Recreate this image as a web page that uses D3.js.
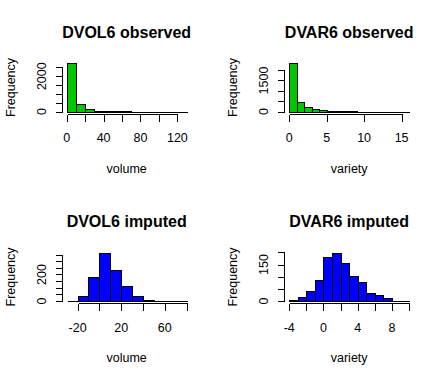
<!DOCTYPE html>
<html><head><meta charset="utf-8">
<script src="https://cdn.jsdelivr.net/npm/d3@7"></script>
<style>body{margin:0;background:#fff}svg{display:block}text{font-family:"Liberation Sans",Arial,sans-serif;fill:#000}</style>
</head><body><svg id="c" width="445" height="379"></svg>
<script>
// ---- data ----
const titles = ["DVOL6 observed", "DVAR6 observed", "DVOL6 imputed", "DVAR6 imputed"];
const xLabels = ["volume", "variety", "volume", "variety"];
const yLabel = "Frequency";

const dvol6ObsBreaks = [0,10,20,30,40,50,60,70,80,90,100,110,120,130];
const dvol6ObsCounts = [2727,440,125,50,15,8,5,3,2,1,1,1,1];
const dvar6ObsBreaks = [0,1,2,3,4,5,6,7,8,9,10,11,12,13,14,15,16];
const dvar6ObsCounts = [2327,473,229,146,98,49,40,8,4,2,1,1,1,0,0,1];
const dvol6ImpBreaks = [-30,-20,-10,0,10,20,30,40,50,60,70,80];
const dvol6ImpCounts = [1,38,183,363,236,116,38,8,1,1,1];
const dvar6ImpBreaks = [-4,-3,-2,-1,0,1,2,3,4,5,6,7,8,9,10];
const dvar6ImpCounts = [4,16,41,86,179,198,157,104,79,34,23,14,1,1];

const xTicks = [[0,20,40,60,80,100,120],[0,5,10,15],[-20,0,20,40,60,80],[-4,-2,0,2,4,6,8,10]];
const xTickLabels = [[0,40,80,120],[0,5,10,15],[-20,20,60],[-4,0,4,8]];
const yTicks = [[0,500,1000,1500,2000,2500],[0,500,1000,1500,2000],[0,50,100,150,200,250,300,350],[0,50,100,150,200]];
const yTickLabels = [[0,2000],[0,1500],[0,200],[0,150]];
const fills = ["#00C800","#00C800","#0000FF","#0000FF"];

// ---- draw ----
const svg = d3.select("#c");
const panels = [
  {b: dvol6ObsBreaks, c: dvol6ObsCounts},
  {b: dvar6ObsBreaks, c: dvar6ObsCounts},
  {b: dvol6ImpBreaks, c: dvol6ImpCounts},
  {b: dvar6ImpBreaks, c: dvar6ImpCounts}
];
const PW = 222.5, PH = 189.5;
const L = 61.9, T = 61.4, W = 129.5, H = 52.1;

panels.forEach((p, i) => {
  const ox = (i % 2) * PW, oy = Math.floor(i / 2) * PH;
  const left = ox + L, top = oy + T, right = left + W, bottom = top + H;
  const xmin = p.b[0], xmax = p.b[p.b.length - 1];
  const ymax = d3.max(p.c);
  const dx = (xmax - xmin) * 0.04, dy = ymax * 0.04;
  const x = d3.scaleLinear().domain([xmin - dx, xmax + dx]).range([left, right]);
  const y = d3.scaleLinear().domain([-dy, ymax + dy]).range([bottom, top]);
  const g = svg.append("g");

  const bins = p.c.map((v, k) => ({x0: p.b[k], x1: p.b[k + 1], v}));
  const px = v => Math.round(x(v)) + 0.5, py = v => Math.round(y(v)) + 0.5;
  g.selectAll("path.bar").data(bins).join("path").attr("class", "bar")
    .attr("d", d => `M${px(d.x0)},${py(0)}V${py(d.v)}H${px(d.x1)}V${py(0)}Z`)
    .attr("fill", fills[i]).attr("stroke", "#000").attr("stroke-width", 1)
    .attr("shape-rendering", "crispEdges");

  // x axis
  const xa = g.append("g").attr("transform", `translate(0,${Math.round(bottom) + 0.5})`);
  const xt = xTicks[i];
  xa.append("line").attr("x1", px(xt[0])).attr("x2", px(xt[xt.length - 1]))
    .attr("stroke", "#000").attr("shape-rendering", "crispEdges");
  xa.selectAll("line.t").data(xt).join("line").attr("class", "t")
    .attr("x1", d => px(d)).attr("x2", d => px(d))
    .attr("y1", 0).attr("y2", 7).attr("stroke", "#000").attr("shape-rendering", "crispEdges");
  g.selectAll("text.xl").data(xTickLabels[i]).join("text").attr("class", "xl")
    .attr("x", d => x(d)).attr("y", bottom + 28.8).attr("text-anchor", "middle")
    .attr("font-size", "12.5px").text(d => d);

  // y axis
  const yt = yTicks[i];
  const ya = g.append("g").attr("transform", `translate(${Math.round(left) + 0.5},0)`);
  ya.append("line").attr("y1", py(yt[0])).attr("y2", py(yt[yt.length - 1]))
    .attr("stroke", "#000").attr("shape-rendering", "crispEdges");
  ya.selectAll("line.t").data(yt).join("line").attr("class", "t")
    .attr("y1", d => py(d)).attr("y2", d => py(d))
    .attr("x1", 0).attr("x2", -7).attr("stroke", "#000").attr("shape-rendering", "crispEdges");
  g.selectAll("text.yl").data(yTickLabels[i]).join("text").attr("class", "yl")
    .attr("transform", d => `translate(${left - 16.2},${y(d)}) rotate(-90)`)
    .attr("text-anchor", "middle").attr("font-size", "12.5px").text(d => d);

  // titles
  g.append("text").attr("x", left + W / 2).attr("y", top - 23.7).attr("text-anchor", "middle")
    .attr("font-size", "16px").attr("font-weight", "bold").text(titles[i]);
  g.append("text").attr("x", left + W / 2).attr("y", bottom + 59).attr("text-anchor", "middle")
    .attr("font-size", "12.5px").text(xLabels[i]);
  g.append("text").attr("transform", `translate(${left - 47.2},${top + H / 2}) rotate(-90)`)
    .attr("text-anchor", "middle").attr("font-size", "12.5px").text(yLabel);
});
</script></body></html>
